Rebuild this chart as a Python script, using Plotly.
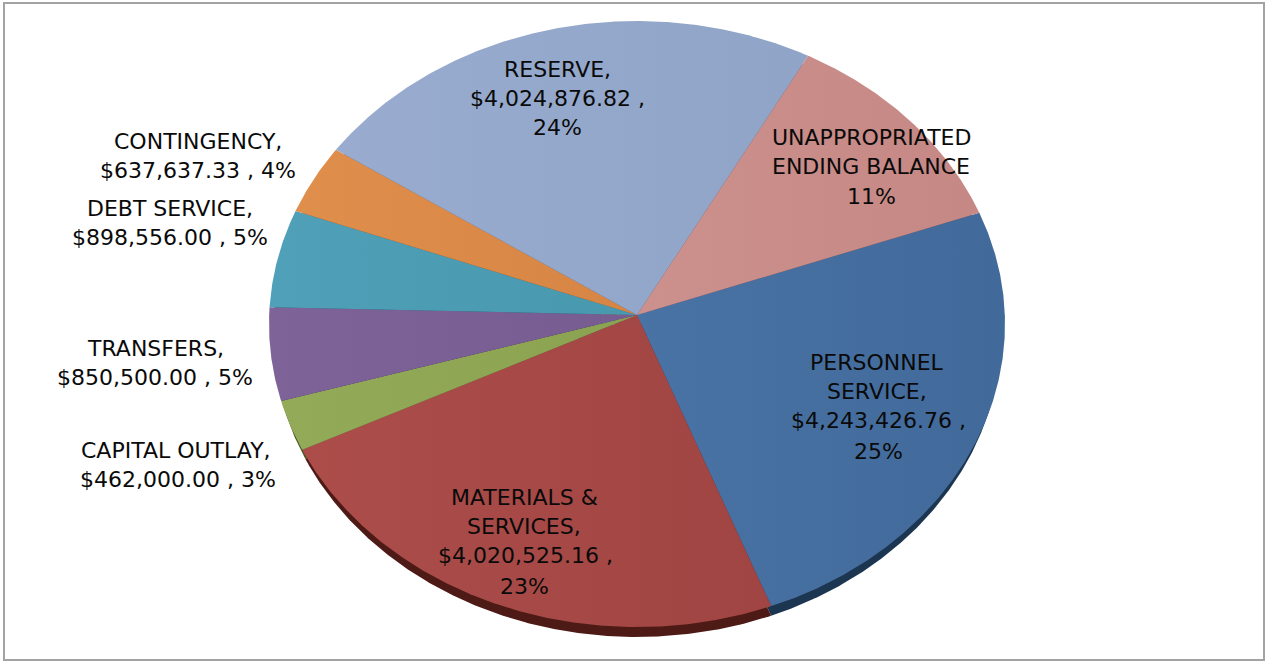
import numpy as np
import plotly.graph_objects as go

# Budget categories, clockwise from the personnel slice
categories = ["PERSONNEL SERVICE", "MATERIALS & SERVICES", "CAPITAL OUTLAY", "TRANSFERS",
              "DEBT SERVICE", "CONTINGENCY", "RESERVE", "UNAPPROPRIATED ENDING BALANCE"]
amounts = [4243426.76, 4020525.16, 462000.00, 850500.00,
           898556.00, 637637.33, 4024876.82, 1975000.00]
percents = ["25%", "23%", "3%", "5%", "5%", "4%", "24%", "11%"]

top_colors = [("#4A73A5", "#416A9B"), ("#AC4D4A", "#A04543"), ("#93AB58", "#8BA350"),
              ("#7E6399", "#775C92"), ("#4FA0B8", "#4898AE"), ("#DF8E4C", "#D68544"),
              ("#99ACD0", "#8FA4C6"), ("#CC908D", "#C58885")]
edge_colors = ["#1C3550", "#4E1A16", "#46551F", "#3A2A4C", "#1E4F5D", "#7A4518", "#4A5A78", "#6E3E3C"]

# Tilted disc geometry in page pixels; the hub sits above the ellipse centre
APEX = (637, 315)
CENTER = (637, 324)
RX, RY = 368, 303
PENCIL_X, PENCIL_Y = 368, 302
EDGE_CENTER = (637, 334)
EDGE_RX, EDGE_RY = 364, 303
START_DEG = 70


def rim_point(theta, center, rx, ry, apex):
    # Walk from the hub along the slice direction until the ellipse is met
    dx, dy = PENCIL_X * np.sin(theta), -PENCIL_Y * np.cos(theta)
    ox, oy = (apex[0] - center[0]) / rx, (apex[1] - center[1]) / ry
    ux, uy = dx / rx, dy / ry
    a = ux * ux + uy * uy
    b = 2 * (ox * ux + oy * uy)
    c = ox * ox + oy * oy - 1
    s = (-b + np.sqrt(b * b - 4 * a * c)) / (2 * a)
    return apex[0] + s * dx, apex[1] + s * dy


def wedge(a0, a1, center, rx, ry, apex):
    t = np.radians(np.linspace(a0, a1, max(int(a1 - a0) * 3, 8)))
    xs, ys = rim_point(t, center, rx, ry, apex)
    return np.r_[apex[0], xs, apex[0]], np.r_[apex[1], ys, apex[1]]


fig = go.Figure()
shares = np.array(amounts) / sum(amounts) * 360
ends = START_DEG + np.cumsum(shares)
starts = ends - shares

# Dark rim first, so only its lower edge stays visible under the disc
for a0, a1, name, col in zip(starts, ends, categories, edge_colors):
    x, y = wedge(a0, a1, EDGE_CENTER, EDGE_RX, EDGE_RY, (APEX[0], APEX[1] + 10))
    fig.add_trace(go.Scatter(x=x, y=y, mode="lines", fill="toself", fillcolor=col,
                             line=dict(width=0), hoverinfo="skip", name=name + " rim"))

for a0, a1, name, (c0, c1) in zip(starts, ends, categories, top_colors):
    x, y = wedge(a0, a1, CENTER, RX, RY, APEX)
    fig.add_trace(go.Scatter(x=x, y=y, mode="lines", fill="toself",
                             fillgradient=dict(type="horizontal", colorscale=[[0, c0], [1, c1]]),
                             line=dict(width=0), name=name,
                             hovertemplate=name + "<extra></extra>"))


def money(i):
    return f"${amounts[i]:,.2f} ,"


# Each entry: text line, centre x, centre y
label_lines = [
    ("PERSONNEL", 877, 362), ("SERVICE,", 877, 391), (money(0), 878, 420), (percents[0], 878, 451),
    ("MATERIALS &", 524, 497), ("SERVICES,", 524, 526), (money(1), 525, 555), (percents[1], 524, 586),
    ("CAPITAL OUTLAY,", 176, 450), (f"{money(2)} {percents[2]}", 178, 479),
    ("TRANSFERS,", 155, 348), (f"{money(3)} {percents[3]}", 155, 377),
    ("DEBT SERVICE,", 170, 208), (f"{money(4)} {percents[4]}", 170, 237),
    ("CONTINGENCY,", 198, 141), (f"{money(5)} {percents[5]}", 198, 170),
    ("RESERVE,", 557, 69), (money(6), 557, 98), (percents[6], 557, 127),
    ("UNAPPROPRIATED", 871, 137), ("ENDING BALANCE", 871, 166), (percents[7], 871, 196),
]

for text, x, y in label_lines:
    fig.add_annotation(x=x, y=y, text=text, showarrow=False, xanchor="center", yanchor="middle",
                       font=dict(family="DejaVu Sans, sans-serif", size=22, color="#0A0A0A"))

fig.update_layout(
    width=1265, height=662, margin=dict(l=0, r=0, t=0, b=0, pad=0),
    paper_bgcolor="white", plot_bgcolor="white", showlegend=False,
    xaxis=dict(range=[0, 1265], visible=False, fixedrange=True),
    yaxis=dict(range=[662, 0], visible=False, fixedrange=True),
    shapes=[dict(type="rect", xref="x", yref="y", x0=4, y0=3, x1=1264, y1=660,
                 line=dict(color="#A3A3A3", width=2), layer="below")],
)

fig.write_html("out.html", config=dict(displayModeBar=False))
